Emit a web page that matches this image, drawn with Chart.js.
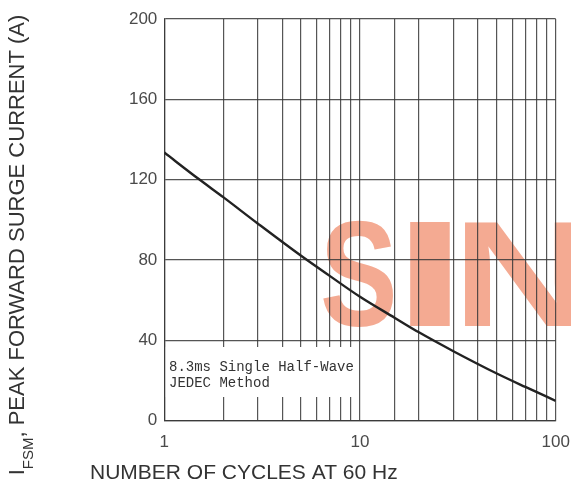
<!DOCTYPE html>
<html>
<head>
<meta charset="utf-8">
<script src="https://cdn.jsdelivr.net/npm/chart.js@4"></script>
<style>
  body { margin: 0; background: #fff; }
  canvas { display: block; }
</style>
</head>
<body>
<canvas id="surgeChart" width="571" height="486"></canvas>
<script>
const cycles = [1, 1.5, 2, 3, 5, 7, 10, 15, 20, 30, 50, 70, 100];
const surgeCurrent = [133.5, 120.3, 111.3, 98.2, 82.1, 72.1, 61.7, 51.3, 44.0, 34.6, 23.5, 16.8, 9.9];
const xTickLabels = [1, 10, 100];
const yTicks = [0, 40, 80, 120, 160, 200];
const noteLines = ["8.3ms Single Half-Wave", "JEDEC Method"];
const xTitle = "NUMBER OF CYCLES AT 60 Hz";

const gridColor = "rgba(55,55,55,0.85)";
const labelColor = "#4a4a4a";

const watermark = {
  id: "watermark",
  beforeDraw(chart) {
    const ctx = chart.ctx;
    ctx.save();
    ctx.fillStyle = "#fff";
    ctx.fillRect(0, 0, chart.width, chart.height);
    ctx.fillStyle = "#f4aa92";
    ctx.font = "bold 151px 'Liberation Sans'";
    ctx.textBaseline = "alphabetic";
    // letter boxes: [char, left, right]
    const letters = [["S", 323, 393], ["I", 410, 450], ["N", 465, 580]];
    letters.forEach(([ch, l, r]) => {
      const m = ctx.measureText(ch);
      const w = m.actualBoundingBoxLeft + m.actualBoundingBoxRight;
      const s = (r - l) / w;
      ctx.save();
      ctx.translate(l, 326);
      ctx.scale(s, 1);
      ctx.fillText(ch, m.actualBoundingBoxLeft, 0);
      ctx.restore();
    });
    ctx.restore();
  }
};

const noteBox = {
  id: "noteBox",
  beforeDatasetsDraw(chart) {
    const ctx = chart.ctx;
    const area = chart.chartArea;
    ctx.save();
    ctx.fillStyle = "#fff";
    ctx.fillRect(area.left + 1.5, 347, 192, 50);
    ctx.fillStyle = "#333";
    ctx.font = "14px 'Liberation Mono'";
    ctx.textBaseline = "middle";
    ctx.fillText(noteLines[0], 169, 367);
    ctx.fillText(noteLines[1], 169, 383);
    ctx.restore();
  }
};

const axisTitles = {
  id: "axisTitles",
  afterDraw(chart) {
    const ctx = chart.ctx;
    ctx.save();
    ctx.fillStyle = "#333";
    ctx.textBaseline = "middle";
    ctx.font = "21px 'Liberation Sans'";
    ctx.fillText(xTitle, 90, 473);

    // rotated y title with subscript
    const mainFont = "22px 'Liberation Sans'";
    const subFont = "15px 'Liberation Sans'";
    const rest = ", PEAK FORWARD SURGE CURRENT (A)";
    ctx.font = mainFont;
    const wI = ctx.measureText("I").width;
    const wRest = ctx.measureText(rest).width;
    ctx.font = subFont;
    const wSub = ctx.measureText("FSM").width;
    const total = wI + wSub + wRest;
    ctx.translate(23.5, 245);
    ctx.rotate(-Math.PI / 2);
    ctx.textBaseline = "alphabetic";
    let x = -total / 2;
    ctx.font = mainFont;
    ctx.fillText("I", x, 0);
    x += wI;
    ctx.font = subFont;
    ctx.fillText("FSM", x, 9);
    x += wSub;
    ctx.font = mainFont;
    ctx.fillText(rest, x, 0);
    ctx.restore();
  }
};

const ctx = document.getElementById("surgeChart").getContext("2d");

new Chart(ctx, {
  type: "line",
  data: {
    datasets: [
      {
        data: cycles.map((c, i) => ({ x: c, y: surgeCurrent[i] })),
        borderColor: "#222",
        borderWidth: 2.4,
        pointRadius: 0,
        fill: false,
        cubicInterpolationMode: "monotone"
      }
    ]
  },
  options: {
    responsive: false,
    animation: false,
    devicePixelRatio: 1,
    layout: {
      padding: { top: 19, right: 0, left: 0, bottom: 0 }
    },
    plugins: {
      legend: { display: false },
      tooltip: { enabled: false }
    },
    scales: {
      x: {
        type: "logarithmic",
        min: 1,
        max: 100,
        afterFit(scale) {
          scale.height = 65.3;
          scale.paddingRight = 15.3;
        },
        grid: {
          color: gridColor,
          lineWidth: 1.2,
          drawTicks: false
        },
        border: { color: gridColor, width: 1.2 },
        ticks: {
          autoSkip: false,
          maxRotation: 0,
          padding: 11,
          color: labelColor,
          font: { family: "'Liberation Sans'", size: 17 },
          callback: value => (xTickLabels.includes(value) ? String(value) : "")
        }
      },
      y: {
        min: yTicks[0],
        max: yTicks[yTicks.length - 1],
        afterFit(scale) {
          scale.width = 164.3;
        },
        afterBuildTicks(scale) {
          scale.ticks = yTicks.map(v => ({ value: v }));
        },
        grid: {
          color: gridColor,
          lineWidth: 1.2,
          drawTicks: false
        },
        border: { color: gridColor, width: 1.2 },
        ticks: {
          padding: 7,
          color: labelColor,
          font: { family: "'Liberation Sans'", size: 17 }
        }
      }
    }
  },
  plugins: [watermark, noteBox, axisTitles]
});
</script>
</body>
</html>
